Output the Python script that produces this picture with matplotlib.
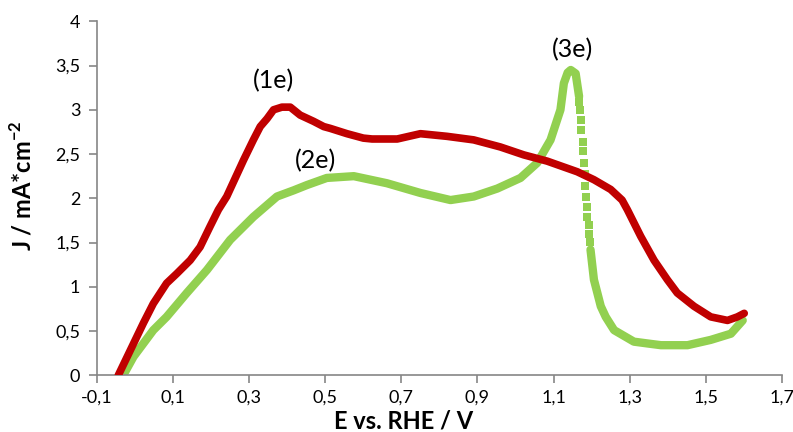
import matplotlib
matplotlib.use("Agg")
import matplotlib.pyplot as plt
from matplotlib.ticker import FuncFormatter, FixedLocator

plt.rcParams["font.family"] = ["Lato", "DejaVu Sans"]
plt.rcParams["mathtext.fontset"] = "custom"
plt.rcParams["mathtext.rm"] = "Lato"
plt.rcParams["mathtext.bf"] = "Lato:bold"

# Scan (1e): potential in V vs RHE, current density in mA/cm2
e1_x = [-0.044, 0.022, 0.048, 0.083, 0.110, 0.145, 0.171, 0.197, 0.219, 0.241,
        0.285, 0.311, 0.329, 0.347, 0.364, 0.386, 0.408, 0.434, 0.469, 0.496,
        0.513, 0.557, 0.600, 0.623, 0.689, 0.750, 0.820, 0.890, 0.960, 1.022,
        1.083, 1.162, 1.206, 1.250, 1.280, 1.294, 1.329, 1.364, 1.399, 1.425,
        1.469, 1.513, 1.557, 1.583, 1.601]
e1_y = [0.00, 0.59, 0.81, 1.04, 1.15, 1.30, 1.45, 1.68, 1.87, 2.02,
        2.43, 2.66, 2.81, 2.90, 3.00, 3.03, 3.03, 2.94, 2.87, 2.81,
        2.79, 2.73, 2.68, 2.67, 2.67, 2.73, 2.70, 2.66, 2.58, 2.49,
        2.42, 2.30, 2.21, 2.10, 1.98, 1.87, 1.57, 1.30, 1.08, 0.93,
        0.78, 0.66, 0.62, 0.66, 0.70]

# Scan (2e)/(3e): rising branch up to the sharp peak
e2_x = [-0.031, -0.004, 0.022, 0.048, 0.083, 0.136, 0.189, 0.250, 0.311, 0.373,
        0.417, 0.452, 0.504, 0.575, 0.662, 0.750, 0.829, 0.890, 0.952, 1.013,
        1.057, 1.092, 1.118, 1.127, 1.137, 1.145, 1.158, 1.167]
e2_y = [0.00, 0.21, 0.36, 0.51, 0.66, 0.93, 1.19, 1.53, 1.79, 2.02,
        2.09, 2.15, 2.23, 2.25, 2.17, 2.06, 1.98, 2.02, 2.11, 2.23,
        2.40, 2.66, 3.00, 3.30, 3.42, 3.45, 3.41, 3.15]

# Steep current drop after the peak (sparse samples)
drop_x = [1.167, 1.169, 1.171, 1.173, 1.176, 1.177, 1.180, 1.182, 1.183,
          1.186, 1.188, 1.189, 1.192, 1.194, 1.196]
drop_y = [3.09, 3.00, 2.88, 2.77, 2.64, 2.53, 2.40, 2.27, 2.14,
          2.02, 1.90, 1.79, 1.70, 1.60, 1.51]

# Low-current tail up to the vertex potential
tail_x = [1.197, 1.206, 1.215, 1.224, 1.237, 1.259, 1.281, 1.311, 1.346, 1.382,
          1.452, 1.513, 1.566, 1.597]
tail_y = [1.42, 1.08, 0.93, 0.78, 0.66, 0.51, 0.455, 0.38, 0.36, 0.34,
          0.34, 0.40, 0.47, 0.62]

labels = ["(1e)", "(2e)", "(3e)"]
label_pos = [(0.363, 3.33), (0.474, 2.42), (1.149, 3.68)]

x_ticks = [-0.1, 0.1, 0.3, 0.5, 0.7, 0.9, 1.1, 1.3, 1.5, 1.7]
y_ticks = [0, 0.5, 1, 1.5, 2, 2.5, 3, 3.5, 4]

red = "#C00000"
green = "#92D050"
axis_grey = "#868686"

fig = plt.figure(figsize=(7.93, 4.32), dpi=100)
ax = fig.add_axes([0.1223, 0.1313, 0.8637, 0.8194])

ax.plot(e2_x, e2_y, color=green, lw=6, solid_capstyle="round",
        solid_joinstyle="round", zorder=2)
ax.plot(drop_x, drop_y, color=green, lw=0, marker="s", ms=5.5,
        markeredgewidth=0, zorder=2)
ax.plot(tail_x, tail_y, color=green, lw=6, solid_capstyle="round",
        solid_joinstyle="round", zorder=2)
ax.plot(e1_x, e1_y, color=red, lw=5.5, solid_capstyle="round",
        solid_joinstyle="round", zorder=3)

for txt, (lx, ly) in zip(labels, label_pos):
    ax.text(lx, ly, txt, fontsize=18, ha="center", va="center", color="black")

ax.set_xlim(-0.1, 1.7)
ax.set_ylim(0, 4)
ax.xaxis.set_major_locator(FixedLocator(x_ticks))
ax.yaxis.set_major_locator(FixedLocator(y_ticks))

def comma_fmt(v, pos):
    s = f"{v:.1f}"
    if s.endswith(".0"):
        s = s[:-2]
    s = s.replace(".", ",")
    if s == "-0":
        s = "0"
    return s

ax.xaxis.set_major_formatter(FuncFormatter(comma_fmt))
ax.yaxis.set_major_formatter(FuncFormatter(comma_fmt))

for side in ("top", "right"):
    ax.spines[side].set_visible(False)
for side in ("left", "bottom"):
    ax.spines[side].set_color(axis_grey)
    ax.spines[side].set_linewidth(1.2)
ax.tick_params(axis="both", colors=axis_grey, length=6, width=1.2,
               labelcolor="black", labelsize=13)
ax.tick_params(axis="x", pad=4)
ax.tick_params(axis="y", pad=6)

fig.text(404 / 793, 1 - 421 / 432, "E vs. RHE / V", fontsize=17,
         fontweight="bold", ha="center", va="center")
fig.text(22 / 793, 1 - 186 / 432, r"J / mA*cm$^{\mathbf{-2}}$", fontsize=17,
         fontweight="bold", ha="center", va="center", rotation=90)

fig.savefig("out.png", dpi=100)
